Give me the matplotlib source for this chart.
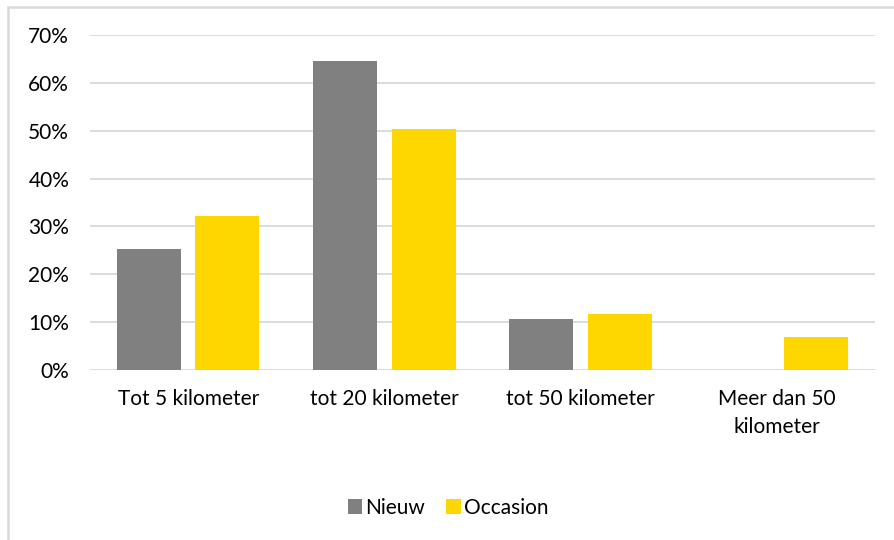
import numpy as np
import matplotlib.pyplot as plt
from matplotlib.patches import Rectangle
from matplotlib.ticker import PercentFormatter

# Afstand tot de dealer, per type auto
categories = ['Tot 5 kilometer', 'tot 20 kilometer', 'tot 50 kilometer', 'Meer dan 50\nkilometer']
nieuw = [0.253, 0.646, 0.107, 0.0]
occasion = [0.322, 0.504, 0.117, 0.068]
y_ticks = [0.0, 0.1, 0.2, 0.3, 0.4, 0.5, 0.6, 0.7]

plt.rcParams['font.family'] = ['Lato', 'DejaVu Sans']

W, H = 895, 540
fig = plt.figure(figsize=(W / 100, H / 100), dpi=100)
ax = fig.add_axes([90 / W, 170 / H, 785 / W, 335 / H])

x = np.arange(len(categories))
bar_w = 0.327
ax.bar(x - 0.2, nieuw, bar_w, color='#808080', label='Nieuw', zorder=3)
ax.bar(x + 0.2, occasion, bar_w, color='#ffd700', label='Occasion', zorder=3)

ax.set_xlim(-0.5, len(categories) - 0.5)
ax.set_ylim(0, 0.70)
ax.set_yticks(y_ticks)
ax.yaxis.set_major_formatter(PercentFormatter(1.0, decimals=0))
ax.set_xticks(x)
ax.set_xticklabels(categories, fontsize=15, linespacing=1.45)
ax.tick_params(axis='y', labelsize=15, length=0, pad=15)
ax.tick_params(axis='x', length=0, pad=14)
ax.grid(axis='y', color='#d9d9d9', linewidth=1.3, zorder=0)
for s in ax.spines.values():
    s.set_visible(False)

leg = fig.legend(loc='center', bbox_to_anchor=(448 / W, 1 - 508 / H), ncol=2,
                 frameon=False, fontsize=15, handlelength=0.7, handleheight=0.7,
                 handletextpad=0.15, columnspacing=1.0)

# lichtgrijze rand rond de grafiek
fig.patches.append(Rectangle((8 / W, -0.05), 1.05, 1 - 7 / H + 0.05, transform=fig.transFigure,
                             fill=False, edgecolor='#d9d9d9', linewidth=1.8))

fig.savefig('out.png', dpi=100)
